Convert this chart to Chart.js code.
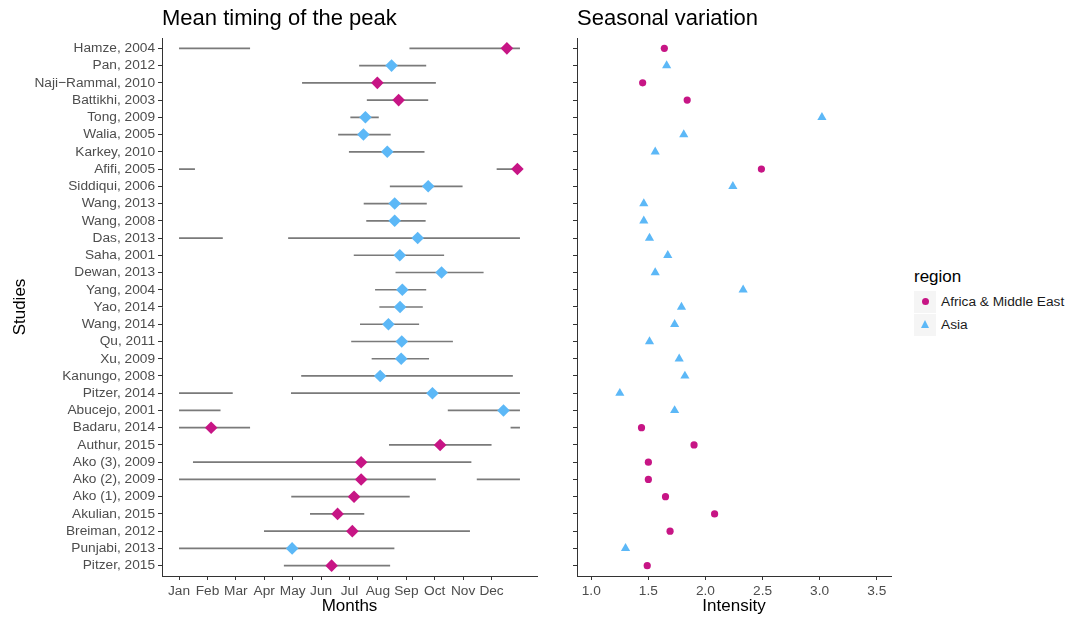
<!DOCTYPE html>
<html>
<head>
<meta charset="utf-8">
<script src="https://cdn.jsdelivr.net/npm/chart.js@4.4.1/dist/chart.umd.min.js"></script>
<style>
  html, body { margin: 0; padding: 0; background: #ffffff; }
  body { width: 1075px; height: 617px; overflow: hidden; position: relative;
         font-family: "Liberation Sans", Arial, Helvetica, sans-serif; }
  #left { position: absolute; left: 0; top: 0; width: 545px; height: 617px; }
  #right { position: absolute; left: 545px; top: 0; width: 355px; height: 617px; }
  .ttl { position: absolute; top: 5px; font-size: 22px; line-height: 26px; color: #000; white-space: nowrap; }
  #legend { position: absolute; left: 914px; top: 267px; }
  #legend .lt { font-size: 17px; line-height: 20px; color: #000; margin-bottom: 3px; }
  #legend .row { display: flex; align-items: center; height: 23px; }
  #legend .key { width: 22px; height: 22px; background: #f5f5f5; position: relative; margin-right: 5px; }
  #legend .lab { font-size: 13.7px; color: #1a1a1a; white-space: nowrap; }
  .dot { position: absolute; left: 7.5px; top: 7.5px; width: 7px; height: 7px; border-radius: 50%; }
  .tri { position: absolute; left: 6.5px; top: 6.5px; width: 0; height: 0;
         border-left: 4.5px solid transparent; border-right: 4.5px solid transparent; border-bottom: 8px solid; }
</style>
</head>
<body>
<canvas id="left" width="545" height="617"></canvas>
<canvas id="right" width="355" height="617"></canvas>
<div class="ttl" style="left:162px">Mean timing of the peak</div>
<div class="ttl" style="left:577px">Seasonal variation</div>
<div id="legend"></div>
<script>
// ---------------- DATA ----------------
const studies = [
  'Hamze, 2004', 'Pan, 2012', 'Naji\u2212Rammal, 2010', 'Battikhi, 2003', 'Tong, 2009',
  'Walia, 2005', 'Karkey, 2010', 'Afifi, 2005', 'Siddiqui, 2006', 'Wang, 2013',
  'Wang, 2008', 'Das, 2013', 'Saha, 2001', 'Dewan, 2013', 'Yang, 2004',
  'Yao, 2014', 'Wang, 2014', 'Qu, 2011', 'Xu, 2009', 'Kanungo, 2008',
  'Pitzer, 2014', 'Abucejo, 2001', 'Badaru, 2014', 'Authur, 2015', 'Ako (3), 2009',
  'Ako (2), 2009', 'Ako (1), 2009', 'Akulian, 2015', 'Breiman, 2012', 'Punjabi, 2013',
  'Pitzer, 2015'
];
const AME = 'Africa & Middle East';
const ASIA = 'Asia';
const region = [
  AME, ASIA, AME, AME, ASIA,
  ASIA, ASIA, AME, ASIA, ASIA,
  ASIA, ASIA, ASIA, ASIA, ASIA,
  ASIA, ASIA, ASIA, ASIA, ASIA,
  ASIA, ASIA, AME, AME, AME,
  AME, AME, AME, AME, ASIA,
  AME
];
// mean peak month (1 = Jan ... 12 = Dec, 13 = Jan of next year)
const peakMonth = [
  12.54, 8.48, 7.98, 8.73, 7.56,
  7.49, 8.33, 12.91, 9.77, 8.59,
  8.59, 9.40, 8.77, 10.24, 8.86,
  8.78, 8.37, 8.84, 8.82, 8.08,
  9.92, 12.42, 2.13, 10.19, 7.41,
  7.41, 7.16, 6.58, 7.10, 4.98,
  6.37
];
// interval around the peak (may extend beyond the year; wrapped when drawn)
const intervalStart = [
  9.11, 7.34, 5.33, 7.61, 7.03,
  6.60, 6.98, 12.18, 8.42, 7.50,
  7.59, 4.84, 7.15, 8.62, 7.90,
  8.05, 7.37, 7.06, 7.78, 5.30,
  4.94, 10.46, 0.67, 8.39, 1.49,
  -0.52, 4.95, 5.61, 3.99, 0.97,
  4.69
];
const intervalEnd = [
  15.50, 9.70, 10.04, 9.77, 8.03,
  8.45, 9.64, 13.56, 10.98, 9.72,
  9.68, 14.54, 10.33, 11.72, 9.70,
  9.58, 9.45, 10.64, 9.80, 12.75,
  14.89, 14.46, 3.50, 12.00, 11.29,
  10.04, 9.12, 7.52, 11.24, 8.58,
  8.43
];
const intensity = [
  1.64, 1.66, 1.45, 1.84, 3.02,
  1.81, 1.56, 2.49, 2.24, 1.46,
  1.46, 1.51, 1.67, 1.56, 2.33,
  1.79, 1.73, 1.51, 1.77, 1.82,
  1.25, 1.73, 1.44, 1.90, 1.50,
  1.50, 1.65, 2.08, 1.69, 1.30,
  1.49
];
const monthLabels = ['Jan','Feb','Mar','Apr','May','Jun','Jul','Aug','Sep','Oct','Nov','Dec'];
const intensityTicks = [1.0, 1.5, 2.0, 2.5, 3.0, 3.5];
const regionNames = [AME, ASIA];

// ---------------- STYLE ----------------
const regionColor = { [AME]: '#C71585', [ASIA]: '#5CB8F7' };
const regionShape = { [AME]: 'circle', [ASIA]: 'triangle' };
const FONT = '"Liberation Sans", Arial, Helvetica, sans-serif';
const tickFont = { family: FONT, size: 13.7 };
const axisTitleFont = { family: FONT, size: 17 };
const AXIS = '#333333';

// wrap intervals onto the Jan..Jan(+1) year
function segmentsFor(i) {
  const a = intervalStart[i], b = intervalEnd[i];
  if (a < 1) return [[1, b], [a + 12, 13]];
  if (b > 13) return [[a, 13], [1, b - 12]];
  return [[a, b]];
}
const intervalPoints = [];
studies.forEach((s, i) => {
  segmentsFor(i).forEach(([a, b]) => {
    intervalPoints.push({ x: a, y: i }, { x: b, y: i }, { x: null, y: null });
  });
});

function yScale(showLabels, width) {
  return {
    type: 'linear', reverse: true,
    min: -0.6, max: studies.length - 1 + 0.6,
    afterBuildTicks: s => { s.ticks = studies.map((_, i) => ({ value: i })); },
    afterFit: s => { s.width = width; },
    ticks: {
      autoSkip: false, padding: 3, color: '#4D4D4D', font: tickFont,
      callback: v => showLabels ? studies[v] : ''
    },
    grid: { drawOnChartArea: false, drawTicks: true, tickLength: 4, tickColor: AXIS, tickWidth: 1 },
    border: { display: true, color: AXIS, width: 1 },
    title: showLabels ? { display: true, text: 'Studies', color: '#000', font: axisTitleFont, padding: { top: 10, bottom: 0 } } : { display: false }
  };
}

function xScale(min, max, ticksArr, fmt, title) {
  return {
    type: 'linear', min: min, max: max,
    afterBuildTicks: s => { s.ticks = ticksArr.map(v => ({ value: v })); },
    afterFit: s => { s.height = 41; },
    ticks: { autoSkip: false, maxRotation: 0, minRotation: 0, padding: 3, color: '#4D4D4D', font: tickFont, callback: fmt },
    grid: { drawOnChartArea: false, drawTicks: true, tickLength: 4, tickColor: AXIS, tickWidth: 1 },
    border: { display: true, color: AXIS, width: 1 },
    title: { display: true, text: title, color: '#000', font: axisTitleFont, padding: { top: 0, bottom: 0 } }
  };
}

const common = {
  responsive: false, animation: false, events: [],
  plugins: { legend: { display: false }, tooltip: { enabled: false } }
};

// ---------------- LEFT PANEL ----------------
new Chart(document.getElementById('left'), {
  type: 'scatter',
  data: {
    datasets: [
      {
        label: 'interval', data: intervalPoints, showLine: true, spanGaps: false,
        borderColor: '#7a7a7a', borderWidth: 1.7, pointRadius: 0, order: 2
      },
      {
        label: 'peak', data: studies.map((s, i) => ({ x: peakMonth[i], y: i })),
        pointStyle: 'rectRot', pointRadius: 6.3, borderWidth: 0,
        pointBackgroundColor: region.map(r => regionColor[r]),
        pointBorderColor: region.map(r => regionColor[r]), order: 1
      }
    ]
  },
  options: Object.assign({}, common, {
    layout: { padding: { top: 38, right: 8, bottom: 0, left: 0 } },
    scales: {
      x: xScale(0.4, 13.6, monthLabels.map((m, i) => i + 1), v => monthLabels[v - 1], 'Months'),
      y: yScale(true, 162)
    }
  })
});

// ---------------- RIGHT PANEL ----------------
new Chart(document.getElementById('right'), {
  type: 'scatter',
  data: {
    datasets: regionNames.map(name => ({
      label: name,
      data: studies.map((s, i) => ({ x: intensity[i], y: i })).filter((p, i) => region[i] === name),
      pointStyle: regionShape[name],
      pointRadius: name === AME ? 3.6 : 5.3,
      borderWidth: 0,
      backgroundColor: regionColor[name], borderColor: regionColor[name]
    }))
  },
  options: Object.assign({}, common, {
    layout: { padding: { top: 38, right: 9, bottom: 0, left: 0 } },
    scales: {
      x: xScale(0.875, 3.625, intensityTicks, v => Number(v).toFixed(1), 'Intensity'),
      y: yScale(false, 32)
    }
  })
});

// ---------------- LEGEND ----------------
const lg = document.getElementById('legend');
const lt = document.createElement('div'); lt.className = 'lt'; lt.textContent = 'region'; lg.appendChild(lt);
regionNames.forEach(name => {
  const row = document.createElement('div'); row.className = 'row';
  const key = document.createElement('div'); key.className = 'key';
  const mk = document.createElement('div');
  if (regionShape[name] === 'circle') { mk.className = 'dot'; mk.style.background = regionColor[name]; }
  else { mk.className = 'tri'; mk.style.borderBottomColor = regionColor[name]; }
  key.appendChild(mk);
  const lab = document.createElement('div'); lab.className = 'lab'; lab.textContent = name;
  row.appendChild(key); row.appendChild(lab); lg.appendChild(row);
});
</script>
</body>
</html>
